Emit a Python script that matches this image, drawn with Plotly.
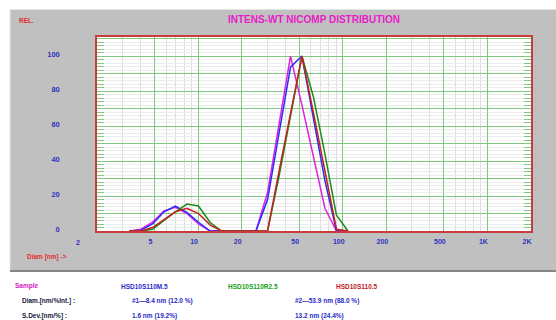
import plotly.graph_objects as go

# ---------------- data ----------------
diam_nm = [3.35, 4.03, 4.84, 5.81, 6.97, 8.38, 10.06, 12.08, 14.5, 17.41, 20.9,
           25.1, 30.2, 36.2, 43.5, 52.2, 62.7, 75.3, 90.4, 108.6]
int_magenta = [0, 1, 5, 11.5, 13.5, 10, 4, 0, 0, 0, 0, 0, 22, 62, 100, 72, 42, 13, 0, 0]
int_blue = [0, 0.5, 4, 11, 14.3, 10.5, 5, 0, 0, 0, 0, 0, 18, 55, 93.7, 100, 64.6, 28.8, 0, 0]
int_green = [0, 0, 1, 6, 11, 15.4, 14.3, 5, 0, 0, 0, 0, 0, 31, 66, 100, 76.6, 44, 9, 0]
int_red = [0, 0, 2, 6.5, 11, 13, 10, 3.5, 0, 0, 0, 0, 0, 34, 68, 100, 67.5, 34.5, 1, 0]

x_tickvals = [5, 10, 20, 50, 100, 200, 500, 1000, 2000]
x_ticktext = ["5", "10", "20", "50", "100", "200", "500", "1K", "2K"]
x_minorvals = [3, 4, 6, 7, 8, 9, 30, 40, 60, 70, 80, 90, 300, 400, 600, 700, 800, 900]
y_tickvals = [0, 10, 20, 30, 40, 50, 60, 70, 80, 90, 100, 110]
y_ticktext = ["0", "", "20", "", "40", "", "60", "", "80", "", "100", ""]

sample_names = ["HSD10S110M.5", "HSD10S110R2.5", "HSD10S110.5"]
diam_label = "Diam.[nm/%Int.] :"
sdev_label = "S.Dev.[nm/%] :"
peak1_diam = "#1\u20148.4 nm (12.0 %)"
peak2_diam = "#2\u201453.9 nm (88.0 %)"
peak1_sdev = "1.6 nm (19.2%)"
peak2_sdev = "13.2 nm (24.4%)"

# ---------------- layout helpers (pixel -> paper) ----------------
L, R, T, B = 97, 531, 37, 231
W, H = 556, 320
def px(x):
    return (x - L) / (R - L)
def py(y):
    return (B - y) / (B - T)

FONT = "Liberation Sans, Arial, sans-serif"
BORDER = "#c83c3c"
GRID = "#80c880"

fig = go.Figure()
series = [(int_magenta, "#e020e0"), (int_blue, "#2a2aff"),
          (int_green, "#1c8c1c"), (int_red, "#c42020")]
for ys, col in series:
    fig.add_trace(go.Scatter(x=diam_nm, y=ys, mode="lines",
                             line=dict(color=col, width=1.5),
                             showlegend=False, hoverinfo="skip"))
# invisible helper trace for the right-side tick axis
fig.add_trace(go.Scatter(x=[diam_nm[0]], y=[0], yaxis="y2", mode="markers",
                         marker=dict(opacity=0), showlegend=False, hoverinfo="skip"))

shapes = [
    dict(type="rect", xref="paper", yref="paper", x0=px(10), x1=px(560),
         y0=py(271), y1=py(9), fillcolor="#c0c0c0", line=dict(width=0), layer="below"),
    dict(type="line", xref="paper", yref="paper", x0=px(10), x1=px(560),
         y0=py(9.5), y1=py(9.5), line=dict(color="#e4e4e4", width=1), layer="below"),
    dict(type="line", xref="paper", yref="paper", x0=px(10), x1=px(10),
         y0=py(9.5), y1=py(271), line=dict(color="#e4e4e4", width=1), layer="below"),
    dict(type="line", xref="paper", yref="paper", x0=px(10), x1=px(560),
         y0=py(271), y1=py(271), line=dict(color="#858585", width=2), layer="below"),
    dict(type="rect", xref="paper", yref="paper", x0=0, x1=1, y0=0, y1=1,
         fillcolor="white", line=dict(width=0), layer="below"),
]

def ann(text, x, y, color, size=7, xanchor="left"):
    return dict(text="<b>%s</b>" % text, xref="paper", yref="paper",
                x=px(x), y=py(y), xanchor=xanchor, yanchor="middle", showarrow=False,
                font=dict(family=FONT, size=size, color=color))

annotations = [
    ann("INTENS-WT NICOMP DISTRIBUTION", 314, 19, "#e81cc8", size=10, xanchor="center"),
    ann("REL.", 17, 20, "#e03030", size=6.5),
    ann("Diam [nm] ->", 25, 257, "#e03030", size=6.5),
    ann("Sample", 13, 286, "#d020c0", size=6.5),
    ann(sample_names[0], 144, 286, "#2a2ac8", size=6.5, xanchor="center"),
    ann(sample_names[1], 253, 286, "#20a020", size=6.5, xanchor="center"),
    ann(sample_names[2], 357, 286, "#c02020", size=6.5, xanchor="center"),
    ann(diam_label, 20, 301, "#202040", size=6.5),
    ann(peak1_diam, 130, 301, "#2a2ac8", size=6.5),
    ann(peak2_diam, 293, 301, "#2a2ac8", size=6.5),
    ann(sdev_label, 20, 316, "#202040", size=6.5),
    ann(peak1_sdev, 130, 316, "#2a2ac8", size=6.5),
    ann(peak2_sdev, 293, 316, "#2a2ac8", size=6.5),
    dict(text="<b>2</b>", xref="x", yref="paper", x=0.30103, y=py(242),
         xshift=-19, showarrow=False, xanchor="center", yanchor="middle",
         font=dict(family=FONT, size=7, color="#3030c0")),
]

tickfont = dict(family=FONT, size=7, color="#3030c0", weight="bold")

fig.update_layout(
    width=W, height=H,
    margin=dict(l=L, r=W - R, t=T, b=H - B, pad=0),
    paper_bgcolor="white", plot_bgcolor="white",
    shapes=shapes, annotations=annotations,
    xaxis=dict(type="log", range=[0.30103, 3.30103],
               tickmode="array", tickvals=x_tickvals, ticktext=x_ticktext,
               showgrid=True, gridcolor=GRID, gridwidth=1,
               ticks="", ticklabelstandoff=3, ticklabelshift=-4,
               tickfont=tickfont,
               showline=True, linecolor=BORDER, linewidth=1.5, mirror=True,
               zeroline=False,
               minor=dict(tickmode="array", tickvals=x_minorvals, showgrid=True,
                          gridcolor="#dcdcdc", gridwidth=1)),
    yaxis=dict(range=[0, 110.9], tickmode="array", tickvals=y_tickvals, ticktext=y_ticktext,
               showgrid=True, gridcolor=GRID, gridwidth=1,
               ticks="inside", ticklen=8, tickcolor=GRID,
               ticklabelstandoff=34, ticklabelshift=-2,
               tickfont=dict(family=FONT, size=7.5, color="#3030c0", weight="bold"),
               showline=True, linecolor=BORDER, linewidth=1.5, mirror=True,
               zeroline=False,
               minor=dict(dtick=2, tick0=0, showgrid=True, gridcolor="#ececec",
                          ticks="inside", ticklen=7, tickcolor=GRID)),
    yaxis2=dict(overlaying="y", side="right", range=[0, 110.9],
                tickmode="array", tickvals=y_tickvals, showticklabels=False,
                showgrid=False, zeroline=False, showline=False,
                ticks="inside", ticklen=8, tickcolor=GRID,
                minor=dict(dtick=2, tick0=0, showgrid=False,
                           ticks="inside", ticklen=7, tickcolor=GRID)),
)

fig.write_html("out.html")
